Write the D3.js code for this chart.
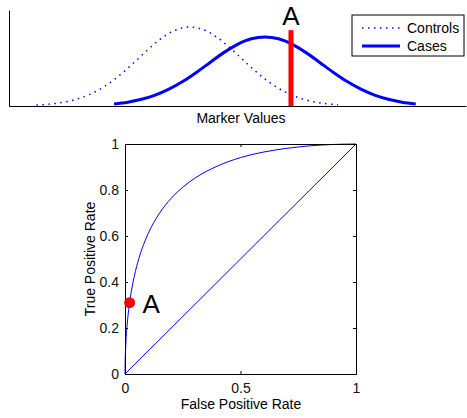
<!DOCTYPE html>
<html>
<head>
<meta charset="utf-8">
<script src="https://cdn.jsdelivr.net/npm/d3@7"></script>
<style>
  body { margin: 0; background: #fff; }
  svg { display: block; font-family: "Liberation Sans", Arial, sans-serif; }
</style>
</head>
<body>
<svg id="chart" width="467" height="418"></svg>
<script>
// ---- data ----
// top panel: marker value distributions (arbitrary marker units 0..100)
const controlsX = [6, 9, 12, 15, 18, 21, 24, 27, 30, 33, 36, 39, 42, 45, 48, 51, 54, 57, 60, 63, 66, 69, 72];
const controlsY = [0.009, 0.020, 0.040, 0.074, 0.128, 0.207, 0.312, 0.437, 0.570, 0.692, 0.782, 0.822,
  0.804, 0.733, 0.621, 0.490, 0.360, 0.246, 0.157, 0.093, 0.051, 0.026, 0.013];
const casesX = [23, 26, 29, 32, 35, 38, 41, 44, 47, 50, 53, 56, 59, 62, 65, 68, 71, 74, 77, 80, 83, 86, 89];
const casesY = [0.022, 0.040, 0.070, 0.114, 0.176, 0.255, 0.350, 0.454, 0.556, 0.642, 0.700, 0.720,
  0.700, 0.642, 0.556, 0.454, 0.350, 0.255, 0.176, 0.114, 0.070, 0.040, 0.022];
const thresholdA = 61.7;      // marker value of threshold A
const thresholdTop = 0.79;    // height of the red bar
const legendLabels = ['Controls', 'Cases'];

// bottom panel: ROC curve
const rocFPR = [0, 0.0002, 0.001, 0.003, 0.007, 0.012, 0.02, 0.03, 0.04, 0.06, 0.08, 0.1, 0.15, 0.2, 0.25,
  0.3, 0.4, 0.5, 0.6, 0.7, 0.8, 0.9, 1];
const rocTPR = [0, 0.024, 0.063, 0.117, 0.185, 0.243, 0.311, 0.374, 0.424, 0.502, 0.562, 0.610, 0.700, 0.764, 0.812,
  0.850, 0.904, 0.941, 0.965, 0.981, 0.992, 0.998, 1];
const chanceFPR = [0, 1];
const chanceTPR = [0, 1];
const pointA = [0.02, 0.31];
const xTicks = [0, 0.5, 1];
const yTicks = [0, 0.2, 0.4, 0.6, 0.8, 1];

const svg = d3.select('#chart');
const blue = '#0000ff';
const red = '#ff0000';

// ================= top panel =================
const tx = d3.scaleLinear().domain([0, 100]).range([9, 466]);
const ty = d3.scaleLinear().domain([0, 1]).range([106, 10]);
const topPanel = svg.append('g');

const densLine = d3.line()
  .x(d => tx(d[0]))
  .y(d => ty(d[1]))
  .curve(d3.curveCatmullRom);

topPanel.append('path')
  .datum(d3.zip(controlsX, controlsY))
  .attr('d', densLine)
  .attr('fill', 'none')
  .attr('stroke', blue)
  .attr('stroke-width', 1.5)
  .attr('stroke-dasharray', '1.5 4.5');

topPanel.append('path')
  .datum(d3.zip(casesX, casesY))
  .attr('d', densLine)
  .attr('fill', 'none')
  .attr('stroke', blue)
  .attr('stroke-width', 3);

// threshold A
topPanel.append('line')
  .attr('x1', tx(thresholdA)).attr('x2', tx(thresholdA))
  .attr('y1', ty(0)).attr('y2', ty(thresholdTop))
  .attr('stroke', red)
  .attr('stroke-width', 5);
topPanel.append('text')
  .attr('x', tx(thresholdA))
  .attr('y', 25)
  .attr('text-anchor', 'middle')
  .attr('font-size', 26)
  .text('A');

// axes without ticks (box off)
topPanel.append('g')
  .attr('transform', `translate(${tx(0)},0)`)
  .call(d3.axisLeft(ty).tickValues([]).tickSizeOuter(0));
topPanel.append('g')
  .attr('transform', `translate(0,${ty(0)})`)
  .call(d3.axisBottom(tx).tickValues([]).tickSizeOuter(0));
topPanel.selectAll('.domain').attr('stroke', '#000');

topPanel.append('text')
  .attr('x', 241)
  .attr('y', 123)
  .attr('text-anchor', 'middle')
  .attr('font-size', 14)
  .text('Marker Values');

// legend
const lg = topPanel.append('g').attr('transform', 'translate(352,15)');
lg.append('rect')
  .attr('width', 112).attr('height', 41)
  .attr('fill', '#fff').attr('stroke', '#000');
legendLabels.forEach((lab, i) => {
  const yy = 13 + i * 18;
  lg.append('line')
    .attr('x1', 10).attr('x2', 48)
    .attr('y1', yy).attr('y2', yy)
    .attr('stroke', blue)
    .attr('stroke-width', i === 0 ? 1.5 : 3)
    .attr('stroke-dasharray', i === 0 ? '1.5 4.5' : null);
  lg.append('text')
    .attr('x', 55).attr('y', yy + 5)
    .attr('font-size', 14)
    .text(lab);
});

// ================= bottom panel =================
const bx = d3.scaleLinear().domain([0, 1]).range([125, 356]);
const by = d3.scaleLinear().domain([0, 1]).range([374, 144]);
const bot = svg.append('g');

const rocLine = d3.line()
  .x(d => bx(d[0]))
  .y(d => by(d[1]))
  .curve(d3.curveMonotoneX);

bot.append('path')
  .datum(d3.zip(chanceFPR, chanceTPR))
  .attr('d', rocLine)
  .attr('fill', 'none')
  .attr('stroke', blue)
  .attr('stroke-width', 1);

bot.append('path')
  .datum(d3.zip(rocFPR, rocTPR))
  .attr('d', rocLine)
  .attr('fill', 'none')
  .attr('stroke', blue)
  .attr('stroke-width', 1);

// axes with inward ticks on all four sides
const tick = -3;
const axB = bot.append('g').attr('transform', `translate(0,${by(0)})`)
  .call(d3.axisBottom(bx).tickValues(xTicks).tickSize(tick).tickPadding(6).tickFormat(d3.format('')));
const axL = bot.append('g').attr('transform', `translate(${bx(0)},0)`)
  .call(d3.axisLeft(by).tickValues(yTicks).tickSize(tick).tickPadding(6).tickFormat(d3.format('')));
const axT = bot.append('g').attr('transform', `translate(0,${by(1)})`)
  .call(d3.axisTop(bx).tickValues(xTicks).tickSize(tick).tickFormat(''));
const axR = bot.append('g').attr('transform', `translate(${bx(1)},0)`)
  .call(d3.axisRight(by).tickValues(yTicks).tickSize(tick).tickFormat(''));
[axB, axL, axT, axR].forEach(a => {
  a.selectAll('.domain').attr('stroke', '#000');
  a.selectAll('line').attr('stroke', '#000');
  a.selectAll('text').attr('font-size', 14).attr('fill', '#111')
    .attr('font-family', '"Liberation Sans", Arial, sans-serif');
});
axB.selectAll('text').attr('dy', '0.95em');

bot.append('text')
  .attr('x', 241)
  .attr('y', 409)
  .attr('text-anchor', 'middle')
  .attr('font-size', 14)
  .text('False Positive Rate');
bot.append('text')
  .attr('transform', `translate(95,${(by(0) + by(1)) / 2}) rotate(-90)`)
  .attr('text-anchor', 'middle')
  .attr('font-size', 14)
  .text('True Positive Rate');

// operating point A
bot.append('circle')
  .attr('cx', bx(pointA[0]))
  .attr('cy', by(pointA[1]))
  .attr('r', 5.5)
  .attr('fill', red);
bot.append('text')
  .attr('x', bx(pointA[0]) + 13)
  .attr('y', by(pointA[1]) + 10)
  .attr('font-size', 26)
  .text('A');
</script>
</body>
</html>
